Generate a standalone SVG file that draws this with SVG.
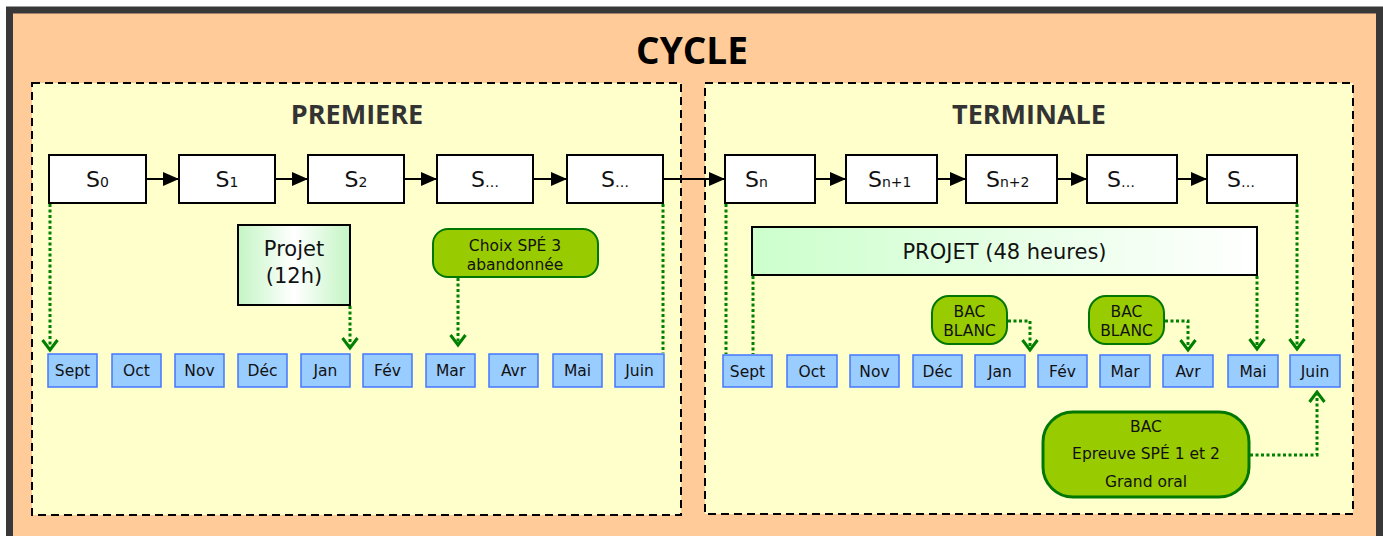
<svg xmlns="http://www.w3.org/2000/svg" width="1383" height="536" viewBox="0 0 1383 536">
<style>
.title{font-family:"Open Sans","Liberation Sans",sans-serif;font-weight:bold;fill:#000;text-anchor:middle}
.sec{font-family:"Open Sans","Liberation Sans",sans-serif;font-weight:bold;fill:#333;font-size:27px;text-anchor:middle}
.zone{fill:#FFFFCC;stroke:#000;stroke-width:2;stroke-dasharray:8,5}
.sbox{fill:#fff;stroke:#000;stroke-width:2}
.st{font-family:"DejaVu Sans",Verdana,sans-serif;font-size:22px;fill:#111}
.sub{font-size:14px}
.mon{fill:#99CCFF;stroke:#4477FF;stroke-width:1.5}
.mt{font-family:"DejaVu Sans",Verdana,sans-serif;font-size:15.5px;fill:#111;text-anchor:middle}
.gbox{fill:#99CC00;stroke:#007700;stroke-width:2}
.gt{font-family:"DejaVu Sans",Verdana,sans-serif;font-size:15.5px;fill:#111;text-anchor:middle}
.pt{font-family:"DejaVu Sans",Verdana,sans-serif;font-size:21px;fill:#111;text-anchor:middle}
.blk{stroke:#000;stroke-width:2;fill:none}
.dot{stroke:#008000;stroke-width:3;stroke-dasharray:3,2.5;fill:none}
.dota{stroke:#008000;stroke-width:3;stroke-dasharray:3,2.5;fill:none;marker-end:url(#gv)}
</style>
<defs>
<marker id="ba" markerUnits="userSpaceOnUse" markerWidth="16" markerHeight="14" refX="16" refY="7" orient="auto" viewBox="0 0 16 14">
<path d="M0,0 L16,7 L0,14 z" fill="#000"/>
</marker>
<marker id="gv" markerUnits="userSpaceOnUse" markerWidth="14" markerHeight="18" refX="11.5" refY="9" orient="auto" viewBox="0 0 14 18">
<path d="M1.5,1.5 L11.5,9 L1.5,16.5" fill="none" stroke="#008000" stroke-width="3"/>
</marker>
<linearGradient id="g12" x1="0" y1="0" x2="1" y2="0">
<stop offset="0" stop-color="#C4F5C4"/>
<stop offset="0.5" stop-color="#FFFFFF"/>
<stop offset="1" stop-color="#C4F5C4"/>
</linearGradient>
<linearGradient id="g48" x1="0" y1="0" x2="1" y2="0">
<stop offset="0" stop-color="#CCFFCC"/>
<stop offset="1" stop-color="#FFFFFF"/>
</linearGradient>
</defs>
<rect x="0" y="0" width="1383" height="536" fill="#fff"/>
<g id="cycle">
<rect x="9.5" y="10" width="1370" height="540" fill="#FFCC99" stroke="#383838" stroke-width="7"/>
<text class="title" x="692" y="64" font-size="37">CYCLE</text>
</g>
<g id="premiere">
<rect class="zone" x="32" y="83" width="649" height="432"/>
<text class="sec" x="357" y="124">PREMIERE</text>
</g>
<g id="terminale">
<rect class="zone" x="705" y="83" width="648" height="431"/>
<text class="sec" x="1029" y="124">TERMINALE</text>
</g>
<g id="s0"><rect class="sbox" x="49" y="155" width="97" height="48"/><text class="st" x="97.5" y="187" text-anchor="middle">S<tspan class="sub">0</tspan></text></g>
<g id="s1"><rect class="sbox" x="179" y="155" width="96" height="48"/><text class="st" x="227" y="187" text-anchor="middle">S<tspan class="sub">1</tspan></text></g>
<g id="s2"><rect class="sbox" x="308" y="155" width="96" height="48"/><text class="st" x="356" y="187" text-anchor="middle">S<tspan class="sub">2</tspan></text></g>
<g id="s3"><rect class="sbox" x="437" y="155" width="96" height="48"/><text class="st" x="485" y="187" text-anchor="middle">S<tspan class="sub">…</tspan></text></g>
<g id="s4"><rect class="sbox" x="567" y="155" width="96" height="48"/><text class="st" x="615" y="187" text-anchor="middle">S<tspan class="sub">…</tspan></text></g>
<g id="sn"><rect class="sbox" x="725" y="155" width="90" height="48"/><text class="st" x="745" y="187">S<tspan class="sub">n</tspan></text></g>
<g id="sn1"><rect class="sbox" x="846" y="155" width="91" height="48"/><text class="st" x="868" y="187">S<tspan class="sub">n+1</tspan></text></g>
<g id="sn2"><rect class="sbox" x="966" y="155" width="91" height="48"/><text class="st" x="986" y="187">S<tspan class="sub">n+2</tspan></text></g>
<g id="sn3"><rect class="sbox" x="1087" y="155" width="90" height="48"/><text class="st" x="1107" y="187">S<tspan class="sub">…</tspan></text></g>
<g id="sn4"><rect class="sbox" x="1207" y="155" width="90" height="48"/><text class="st" x="1227" y="187">S<tspan class="sub">…</tspan></text></g>
<g id="projet12"><rect x="238" y="225" width="112" height="80" fill="url(#g12)" stroke="#000" stroke-width="2"/><text class="pt" x="294" y="256">Projet</text><text class="pt" x="294" y="283">(12h)</text></g>
<g id="choix"><rect class="gbox" x="433" y="229" width="165" height="48" rx="15"/><text class="gt" x="515" y="251">Choix SPÉ 3</text><text class="gt" x="515" y="270">abandonnée</text></g>
<g id="projet48"><rect x="752" y="227" width="505" height="48" fill="url(#g48)" stroke="#000" stroke-width="2"/><text class="pt" x="1004.5" y="259">PROJET (48 heures)</text></g>
<g id="bacblanc1"><rect class="gbox" x="932" y="296" width="75" height="48" rx="17"/><text class="gt" x="969.5" y="317">BAC</text><text class="gt" x="969.5" y="336">BLANC</text></g>
<g id="bacblanc2"><rect class="gbox" x="1089" y="296" width="75" height="48" rx="17"/><text class="gt" x="1126.5" y="317">BAC</text><text class="gt" x="1126.5" y="336">BLANC</text></g>
<g id="bac"><rect x="1043" y="412" width="206" height="85" rx="30" fill="#99CC00" stroke="#007700" stroke-width="3"/><text class="gt" x="1146" y="432">BAC</text><text class="gt" x="1146" y="459">Epreuve SPÉ 1 et 2</text><text class="gt" x="1146" y="487">Grand oral</text></g>
<g id="months1">
<rect class="mon" x="48" y="354" width="49" height="33"/><text class="mt" x="72.5" y="376">Sept</text>
<rect class="mon" x="112" y="354" width="49" height="33"/><text class="mt" x="136.5" y="376">Oct</text>
<rect class="mon" x="175" y="354" width="49" height="33"/><text class="mt" x="199.5" y="376">Nov</text>
<rect class="mon" x="238" y="354" width="49" height="33"/><text class="mt" x="262.5" y="376">Déc</text>
<rect class="mon" x="301" y="354" width="49" height="33"/><text class="mt" x="325.5" y="376">Jan</text>
<rect class="mon" x="363" y="354" width="49" height="33"/><text class="mt" x="387.5" y="376">Fév</text>
<rect class="mon" x="426" y="354" width="49" height="33"/><text class="mt" x="450.5" y="376">Mar</text>
<rect class="mon" x="489" y="354" width="49" height="33"/><text class="mt" x="513.5" y="376">Avr</text>
<rect class="mon" x="553" y="354" width="49" height="33"/><text class="mt" x="577.5" y="376">Mai</text>
<rect class="mon" x="615" y="354" width="49" height="33"/><text class="mt" x="639.5" y="376">Juin</text>
</g>
<g id="months2">
<rect class="mon" x="723" y="355" width="49" height="32"/><text class="mt" x="747.5" y="377">Sept</text>
<rect class="mon" x="787" y="355" width="50" height="32"/><text class="mt" x="812" y="377">Oct</text>
<rect class="mon" x="850" y="355" width="49" height="32"/><text class="mt" x="874.5" y="377">Nov</text>
<rect class="mon" x="913" y="355" width="49" height="32"/><text class="mt" x="937.5" y="377">Déc</text>
<rect class="mon" x="975" y="355" width="50" height="32"/><text class="mt" x="1000" y="377">Jan</text>
<rect class="mon" x="1038" y="355" width="49" height="32"/><text class="mt" x="1062.5" y="377">Fév</text>
<rect class="mon" x="1100" y="355" width="50" height="32"/><text class="mt" x="1125" y="377">Mar</text>
<rect class="mon" x="1163" y="355" width="50" height="32"/><text class="mt" x="1188" y="377">Avr</text>
<rect class="mon" x="1228" y="355" width="50" height="32"/><text class="mt" x="1253" y="377">Mai</text>
<rect class="mon" x="1290" y="355" width="50" height="32"/><text class="mt" x="1315" y="377">Juin</text>
</g>
<g id="connectors">
<line class="blk" x1="146" y1="179" x2="179" y2="179" marker-end="url(#ba)"/>
<line class="blk" x1="275" y1="179" x2="308" y2="179" marker-end="url(#ba)"/>
<line class="blk" x1="404" y1="179" x2="437" y2="179" marker-end="url(#ba)"/>
<line class="blk" x1="533" y1="179" x2="567" y2="179" marker-end="url(#ba)"/>
<line class="blk" x1="663" y1="179" x2="725" y2="179" marker-end="url(#ba)"/>
<line class="blk" x1="815" y1="179" x2="846" y2="179" marker-end="url(#ba)"/>
<line class="blk" x1="937" y1="179" x2="966" y2="179" marker-end="url(#ba)"/>
<line class="blk" x1="1057" y1="179" x2="1087" y2="179" marker-end="url(#ba)"/>
<line class="blk" x1="1177" y1="179" x2="1207" y2="179" marker-end="url(#ba)"/>
<path class="dota" d="M50,204 V350"/>
<path class="dot" d="M663,204 V353"/>
<path class="dota" d="M350,306 V348"/>
<path class="dota" d="M458,278 V345"/>
<path class="dot" d="M726,204 V354"/>
<path class="dot" d="M753,276 V354"/>
<path class="dota" d="M1257,276 V349"/>
<path class="dota" d="M1297,204 V349"/>
<path class="dota" d="M1008,321 H1030 V350"/>
<path class="dota" d="M1165,321 H1188 V350"/>
<path class="dota" d="M1250,455 H1317 V392"/>
</g>
</svg>
